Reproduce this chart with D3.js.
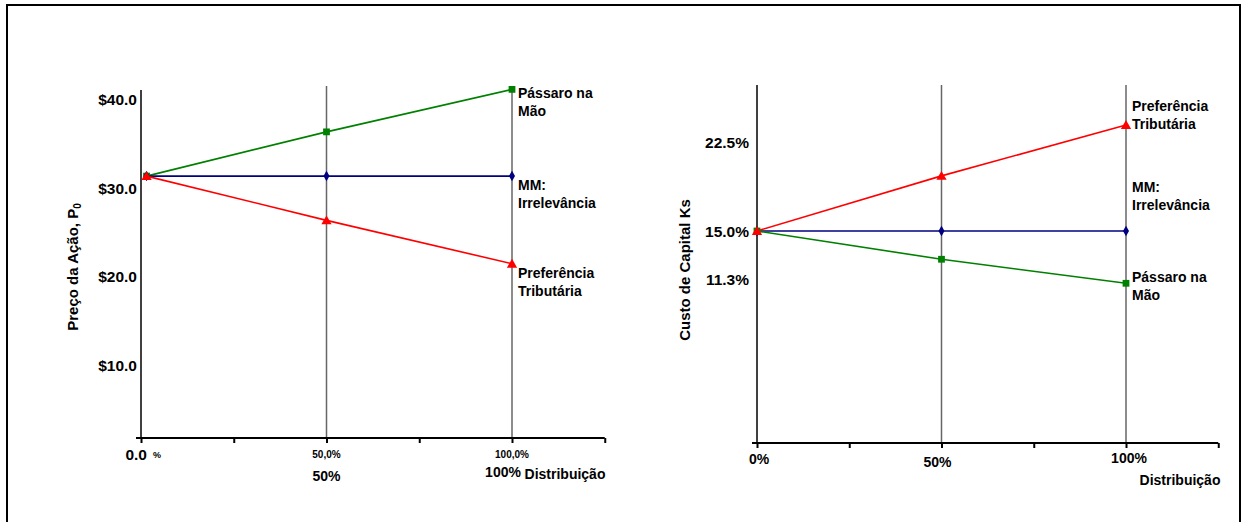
<!DOCTYPE html>
<html>
<head>
<meta charset="utf-8">
<script src="https://cdn.jsdelivr.net/npm/d3@7"></script>
<style>
  html, body { margin: 0; padding: 0; background: #fff; }
  svg { display: block; font-family: "Liberation Sans", Arial, sans-serif; }
  text { font-weight: bold; fill: #000; }
</style>
</head>
<body>
<svg id="chart" width="1241" height="522"></svg>
<script>
// ---------- DATA ----------
const distribution = [0, 0.5, 1.0];            // dividend payout (right chart)
const distributionLeft = [0.015, 0.5, 1.0];    // dividend payout (left chart, as drawn)
const xTickValues = [0, 0.25, 0.5, 0.75, 1.0, 1.25];

const priceBird = [31.4, 36.4, 41.2];   // Pássaro na Mão
const priceMM   = [31.4, 31.4, 31.4];   // MM: Irrelevância
const priceTax  = [31.4, 26.4, 21.5];   // Preferência Tributária
const priceTicks = [10, 20, 30, 40];
const priceTickLabels = ["$10.0", "$20.0", "$30.0", "$40.0"];

const costTax  = [15.0, 18.9, 22.5];    // Preferência Tributária
const costMM   = [15.0, 15.0, 15.0];    // MM: Irrelevância
const costBird = [15.0, 13.0, 11.3];    // Pássaro na Mão
const costTicks = [22.5, 15.0, 11.3];
const costTickLabels = ["22.5%", "15.0%", "11.3%"];

const seriesNames = {
  bird: ["Pássaro na", "Mão"],
  mm: ["MM:", "Irrelevância"],
  tax: ["Preferência", "Tributária"]
};

// ---------- STYLE / LAYOUT ----------
const colors = { bird: "#008000", mm: "#000080", tax: "#ff0000" };
const svg = d3.select("#chart");

svg.append("rect").attr("x", 7).attr("y", 5).attr("width", 1233).attr("height", 530)
  .attr("fill", "none").attr("stroke", "#000").attr("stroke-width", 2);

const markers = {
  bird: d3.symbol().type(d3.symbolSquare).size(46),
  mm: d3.symbol().type(d3.symbolDiamond).size(32),
  tax: d3.symbol().type(d3.symbolTriangle).size(46)
};

function drawPanel(cfg) {
  const g = svg.append("g");
  const x = cfg.x, y = cfg.y;
  const x0 = x(0);

  // gridlines at 50% and 100%
  g.selectAll(".grid").data([0.5, 1.0]).join("line")
    .attr("x1", d => x(d)).attr("x2", d => x(d))
    .attr("y1", cfg.gridTop).attr("y2", cfg.axisY)
    .attr("stroke", "#666").attr("stroke-width", 1.5);

  // y axis line
  g.append("line").attr("x1", x0).attr("x2", x0)
    .attr("y1", cfg.yAxisTop).attr("y2", cfg.axisY)
    .attr("stroke", "#000").attr("stroke-width", 1.5);

  // x axis
  const xAxis = d3.axisBottom(x).tickValues(xTickValues).tickSize(5).tickSizeOuter(0).tickFormat("");
  const ax = g.append("g").attr("transform", `translate(0,${cfg.axisY})`).call(xAxis);
  ax.select(".domain").attr("stroke", "#000").attr("stroke-width", 2.2)
    .attr("d", `M${x0 - 5},0H${x(1.25)}`);
  ax.selectAll(".tick line").attr("stroke", "#000").attr("stroke-width", 2);

  // y tick labels
  g.selectAll(".ylab").data(cfg.ticks).join("text")
    .attr("x", x0 - cfg.yLabPad)
    .attr("y", (d, i) => y(d) + (cfg.yLabNudge ? cfg.yLabNudge[i] : 0))
    .attr("dy", "0.35em")
    .attr("text-anchor", "end").attr("font-size", 15.5)
    .text((d, i) => cfg.tickLabels[i]);

  // series
  const line = d3.line().x((d, i) => x(cfg.xs[i])).y(d => y(d));
  cfg.order.forEach(key => {
    const vals = cfg.series[key];
    g.append("path").attr("d", line(vals)).attr("fill", "none")
      .attr("stroke", colors[key]).attr("stroke-width", 1.6);
  });
  cfg.order.forEach(key => {
    const vals = cfg.series[key];
    g.selectAll(null).data(vals).join("path")
      .attr("d", markers[key])
      .attr("transform", (d, i) => `translate(${x(cfg.xs[i])},${y(d) + (key === "tax" ? 1 : 0)})`)
      .attr("fill", colors[key]);
  });

  // series labels
  Object.keys(cfg.labelOffset).forEach(key => {
    const vals = cfg.series[key];
    const base = y(vals[vals.length - 1]) + cfg.labelOffset[key];
    const t = g.append("text").attr("font-size", 14);
    seriesNames[key].forEach((s, i) => {
      t.append("tspan").attr("x", x(1) + 6).attr("y", base + i * 18).attr("dy", "0.35em").text(s);
    });
  });
  return g;
}

// ---------- LEFT PANEL ----------
const xL = d3.scaleLinear().domain([0, 1]).range([141, 512]);
const yL = d3.scaleLinear().domain([0, 40]).range([454, 100]);
const gL = drawPanel({
  x: xL, y: yL, xs: distributionLeft, axisY: 438, yAxisTop: 90, gridTop: 86,
  ticks: priceTicks, tickLabels: priceTickLabels, yLabPad: 4,
  series: { bird: priceBird, mm: priceMM, tax: priceTax },
  order: ["bird", "mm", "tax"],
  labelOffset: { bird: 4, mm: 9, tax: 9 }
});
// y title
gL.append("text").attr("transform", "translate(78,267) rotate(-90)")
  .attr("text-anchor", "middle").attr("font-size", 15)
  .call(t => {
    t.append("tspan").text("Preço da Ação, P");
    t.append("tspan").attr("font-size", 10).attr("dy", 3).text("0");
  });
// x labels
gL.append("text").attr("x", xL(0) + 6).attr("y", 455).attr("dy", "0.35em")
  .attr("text-anchor", "end").attr("font-size", 15.5).text("0.0");
gL.append("text").attr("x", xL(0) + 12).attr("y", 455).attr("dy", "0.35em")
  .attr("font-size", 9).attr("font-weight", "normal").text("%");
[[0.5, "50,0%"], [1.0, "100,0%"]].forEach(([v, s]) => {
  gL.append("text").attr("x", xL(v)).attr("y", 454).attr("dy", "0.35em")
    .attr("text-anchor", "middle").attr("font-size", 10).text(s);
});
gL.append("text").attr("x", xL(0.5)).attr("y", 476).attr("dy", "0.35em")
  .attr("text-anchor", "middle").attr("font-size", 14).text("50%");
gL.append("text").attr("x", xL(1.0) - 9).attr("y", 472).attr("dy", "0.35em")
  .attr("text-anchor", "middle").attr("font-size", 14).text("100%");
gL.append("text").attr("x", 565).attr("y", 474).attr("dy", "0.35em")
  .attr("text-anchor", "middle").attr("font-size", 14).text("Distribuição");

// ---------- RIGHT PANEL ----------
const xR = d3.scaleLinear().domain([0, 1]).range([757, 1126]);
const yR = d3.scaleLinear().domain([0, 22.5]).range([443, 125]);
const gR = drawPanel({
  x: xR, y: yR, xs: distribution, axisY: 443, yAxisTop: 85, gridTop: 85,
  ticks: costTicks, tickLabels: costTickLabels, yLabPad: 8, yLabNudge: [18, 1, -4],
  series: { tax: costTax, mm: costMM, bird: costBird },
  order: ["mm", "bird", "tax"],
  labelOffset: { tax: -19, mm: -44, bird: -6 }
});
gR.append("text").attr("transform", "translate(690,270) rotate(-90)")
  .attr("text-anchor", "middle").attr("font-size", 15).text("Custo de Capital Ks");
[[0, "0%", 459], [0.5, "50%", 462], [1.0, "100%", 458]].forEach(([v, s, yy]) => {
  gR.append("text").attr("x", xR(v) + (v === 0 ? 2 : v === 0.5 ? -4 : 3)).attr("y", yy).attr("dy", "0.35em")
    .attr("text-anchor", "middle").attr("font-size", 14).text(s);
});
gR.append("text").attr("x", 1180).attr("y", 480).attr("dy", "0.35em")
  .attr("text-anchor", "middle").attr("font-size", 14).text("Distribuição");
</script>
</body>
</html>
